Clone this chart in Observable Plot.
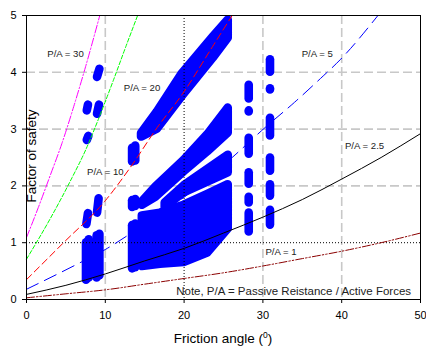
<!DOCTYPE html>
<html>
<head>
<meta charset="utf-8">
<script src="https://cdn.jsdelivr.net/npm/d3@7"></script>
<script src="https://cdn.jsdelivr.net/npm/@observablehq/plot@0.6"></script>
<style>
  html, body { margin: 0; padding: 0; background: #fff; }
  #chart svg { display: block; }
</style>
</head>
<body>
<div id="chart"></div>
<script>
// Factor of safety against friction angle, with P/A reference curves.

// Reference curves: [friction angle (deg), factor of safety]
const curvePA30 = [[0, 1.09], [1.5, 1.62], [3, 2.18], [4.5, 2.75], [6, 3.4], [7.5, 4.1], [9.3, 5.0]];
const curvePA20 = [[0, 0.71], [3, 1.42], [5.8, 2.15], [7.5, 2.63], [9.2, 3.2], [11, 3.85], [12.6, 4.45], [14.1, 5.0]];
const curvePA10 = [[0, 0.35], [4.7, 1.0], [10, 1.74], [13.2, 2.33], [16.6, 3.03], [19.8, 3.62], [23.6, 4.45], [26.1, 5.0]];
const curvePA5 = [[0, 0.18], [6.4, 0.62], [10, 0.88], [13.2, 1.16], [20, 1.8], [26.1, 2.5], [30.3, 3.03], [34, 3.47], [37.3, 3.89], [39.8, 4.22], [44.6, 5.0]];
const curvePA25 = [[0, 0.09], [5, 0.25], [10, 0.45], [15, 0.68], [20, 0.9], [25, 1.17], [30, 1.45], [35, 1.76], [40, 2.12], [45, 2.5], [50, 2.92]];
const curvePA1 = [[0, 0.03], [5, 0.1], [10, 0.17], [15, 0.27], [20, 0.37], [25, 0.47], [30, 0.59], [35, 0.72], [40, 0.85], [45, 1.0], [50, 1.17]];

// Computed cases, drawn as runs of overlapping dots.
// Vertical runs: [friction angle, lowest FS, highest FS]
const dotColumns = [
  [7.55, 0.34, 1.0], [7.9, 0.38, 1.05], [8.9, 0.38, 1.12], [9.25, 0.42, 1.15],
  [13.4, 2.42, 2.66], [13.8, 2.44, 2.7], [13.4, 1.62, 1.74], [13.8, 1.64, 1.76],
  [13.4, 0.54, 1.3], [13.8, 0.56, 1.33],
  [28.2, 3.53, 3.77], [28.2, 3.3, 3.32], [28.2, 2.56, 2.84], [28.2, 2.03, 2.23], [28.2, 1.7, 1.8], [28.2, 1.19, 1.52],
  [30.9, 4.0, 4.22], [30.9, 3.69, 3.71], [30.9, 2.88, 3.19], [30.9, 2.26, 2.49], [30.9, 1.82, 2.02], [30.9, 1.31, 1.57]
];
// Short slanted runs: [angle from, FS from, angle to, FS to]
const dotStreaks = [
  [8.95, 3.92, 9.25, 4.06], [7.65, 3.33, 7.8, 3.43], [8.95, 3.27, 9.2, 3.43], [7.65, 2.81, 7.85, 2.88],
  [8.95, 1.53, 9.15, 1.78], [7.6, 1.33, 7.8, 1.52]
];
// Wide slanted bands: [band, friction angle, lowest FS, highest FS]
const dotBands = [
  ["U", 14.6, 2.86, 2.92], ["U", 16.6, 3.0, 3.3], ["U", 19.8, 3.58, 3.98], ["U", 23.7, 4.25, 4.62], ["U", 25.6, 4.6, 4.92],
  ["B2", 14.7, 1.66, 1.72], ["B2", 16.4, 1.8, 1.98], ["B2", 20.0, 2.25, 2.45], ["B2", 23.0, 2.6, 2.9], ["B2", 25.6, 2.93, 3.37],
  ["B3", 17.6, 1.62, 1.7], ["B3", 20.0, 1.88, 2.0], ["B3", 25.6, 2.23, 2.54],
  ["M", 14.7, 0.58, 1.47], ["M", 17.0, 0.62, 1.52], ["M", 20.0, 0.65, 1.66], ["M", 23.0, 0.82, 1.85], ["M", 25.6, 1.24, 2.02]
];

// Curve labels: [text, friction angle, FS]
const curveLabels = [
  ["P/A = 30", 4.95, 4.33], ["P/A = 20", 14.66, 3.73], ["P/A = 10", 10.0, 2.25],
  ["P/A = 5", 36.9, 4.32], ["P/A = 2.5", 42.9, 2.7], ["P/A = 1", 32.3, 0.83]
];
const noteText = ["Note, P/A = Passive Reistance / Active Forces", 33.9, 0.14];

const xTicks = [0, 10, 20, 30, 40, 50];
const yTicks = [0, 1, 2, 3, 4, 5];
const gridX = [10, 30, 40];
const gridY = [2, 3, 4];
const refX = [20];
const refY = [1];

const blue = "#0000ff";
const dotSize = 8.6;

const curveMark = (pts, stroke, dash, w = 1) =>
  Plot.line(pts, { x: d => d[0], y: d => d[1], stroke, strokeWidth: w, strokeDasharray: dash, curve: "monotone-x" });

const svg = Plot.plot({
  width: 426,
  height: 347,
  marginLeft: 26,
  marginRight: 6,
  marginTop: 15,
  marginBottom: 48,
  style: { fontFamily: "'Liberation Sans', Arial, sans-serif", fontSize: "11px", background: "#fff", color: "#000" },
  x: { domain: [0, 50], ticks: xTicks, tickFormat: d => String(d), tickSize: 4, tickPadding: 8, label: null },
  y: { domain: [0, 5], ticks: yTicks, tickFormat: d => String(d), tickSize: 4, tickPadding: 6, label: null },
  marks: [
    Plot.ruleX(gridX, { stroke: "#c8c8c8", strokeWidth: 1.6, strokeDasharray: "9,4" }),
    Plot.ruleY(gridY, { stroke: "#c8c8c8", strokeWidth: 1.6, strokeDasharray: "9,4" }),
    Plot.area(dotBands, {
      x1: d => d[1], y1: d => d[2], y2: d => d[3], z: d => d[0],
      fill: blue, stroke: blue, strokeWidth: dotSize, strokeLinejoin: "round"
    }),
    Plot.ruleX(dotColumns, { x: d => d[0], y1: d => d[1], y2: d => d[2], stroke: blue, strokeWidth: dotSize, strokeLinecap: "round" }),
    Plot.link(dotStreaks, { x1: d => d[0], y1: d => d[1], x2: d => d[2], y2: d => d[3], stroke: blue, strokeWidth: dotSize, strokeLinecap: "round" }),
    Plot.ruleX(refX, { stroke: "#000", strokeWidth: 1, strokeDasharray: "1,2" }),
    Plot.ruleY(refY, { stroke: "#000", strokeWidth: 1, strokeDasharray: "1,2" }),
    curveMark(curvePA30, "#ff00ff", "8,2,1.5,2"),
    curveMark(curvePA20, "#00ff00", "4,2"),
    curveMark(curvePA10, "#ff0000", "7,4"),
    curveMark(curvePA5, blue, "13,7"),
    curveMark(curvePA25, "#000", null),
    curveMark(curvePA1, "#8b0000", "8,2,1.5,2,1.5,2"),
    Plot.text(curveLabels, { x: d => d[1], y: d => d[2], text: d => d[0], fontSize: 9.6, textAnchor: "middle", lineAnchor: "middle", fill: "#222" }),
    Plot.text([noteText], { x: d => d[1], y: d => d[2], text: d => d[0], fontSize: 11.5, textAnchor: "middle", lineAnchor: "middle", fill: "#222" }),
    Plot.frame({ stroke: "#000", strokeWidth: 1 })
  ]
});

// Axis titles
const root = d3.select(svg);
const xt = root.append("text")
  .attr("x", 223).attr("y", 343)
  .attr("text-anchor", "middle")
  .attr("font-size", 13.5)
  .attr("fill", "#000")
  .text("Friction angle (");
xt.append("tspan").attr("font-size", 8.5).attr("dy", -5.5).text("0");
xt.append("tspan").attr("dy", 5.5).text(")");

root.append("text")
  .attr("transform", "translate(35.5,156) rotate(-90)")
  .attr("text-anchor", "middle")
  .attr("font-size", 13.5)
  .attr("fill", "#000")
  .text("Factor of safety");

document.getElementById("chart").appendChild(svg);
</script>
</body>
</html>
